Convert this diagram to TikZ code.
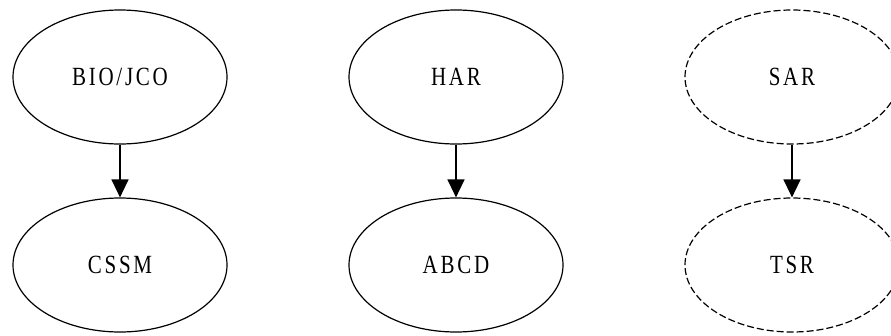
\documentclass[tikz,border=0pt]{standalone}
\usepackage{fontspec}
\setmainfont{Liberation Serif}
\newfontfamily\lblfont[LetterSpace=13]{Liberation Serif}
\usetikzlibrary{shapes.geometric,arrows.meta}
% labels are set in a slightly tall, tracked serif
\newcommand\statelabel[1]{\scalebox{1}[1.25]{#1}}
\tikzset{
  state/.style={ellipse, draw, line width=1.2pt, minimum width=214pt,
    minimum height=134pt, inner sep=0pt, font=\lblfont\fontsize{21}{25}\selectfont},
  hidden/.style={state, dash pattern=on 7pt off 3pt},
  link/.style={line width=1.4pt, -{Triangle[width=17pt,length=18pt]}}
}
\begin{document}
\begin{tikzpicture}[x=1pt,y=-1pt]
  \useasboundingbox (0,0) rectangle (891,335);
  \clip (0,0) rectangle (891,335);
  \node[state]  (bio)  at (120,77)  {\statelabel{BIO/JCO}};
  \node[state]  (cssm) at (120,265) {\statelabel{CSSM}};
  \node[state]  (har)  at (456,77)  {\statelabel{HAR}};
  \node[state]  (abcd) at (456,265) {\statelabel{ABCD}};
  \node[hidden] (sar)  at (792,77)  {\statelabel{SAR}};
  \node[hidden] (tsr)  at (792,265) {\statelabel{TSR}};
  \draw[link] (bio) -- (cssm);
  \draw[link] (har) -- (abcd);
  \draw[link] (sar) -- (tsr);
\end{tikzpicture}
\end{document}
